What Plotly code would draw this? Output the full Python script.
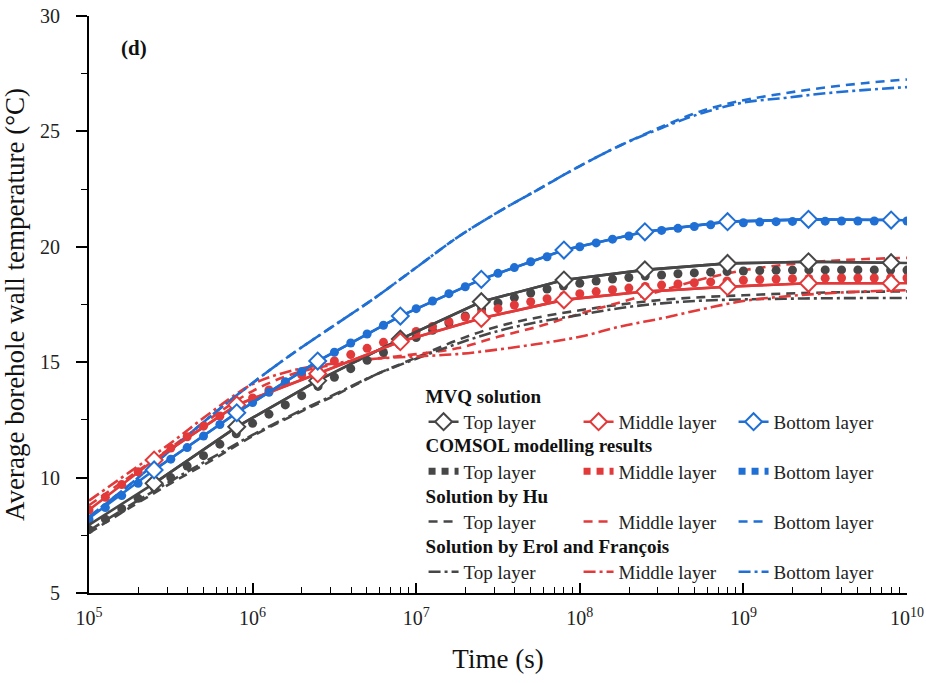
import numpy as np
import plotly.graph_objects as go

# ---------------- data ----------------
# MVQ solution (line through points, diamonds on inner points)
mvq_time = [1e5, 2.5e5, 8e5, 2.5e6, 8e6, 2.5e7, 8e7, 2.5e8, 8e8, 2.5e9, 8e9, 1e10]
mvq_top = [7.95, 9.75, 12.2, 14.2, 16.0, 17.62, 18.56, 19.0, 19.28, 19.35, 19.31, 19.3]
mvq_mid = [8.6, 10.76, 13.15, 14.5, 15.89, 16.9, 17.7, 18.06, 18.27, 18.42, 18.42, 18.42]
mvq_bot = [8.24, 10.33, 12.81, 15.05, 17.0, 18.59, 19.86, 20.65, 21.09, 21.19, 21.16, 21.15]

# COMSOL modelling results (log10 of time)
comsol_logt = [5.0, 5.1, 5.2, 5.3, 5.4, 5.5, 5.6, 5.7, 5.8, 5.9,
               6.0, 6.1, 6.2, 6.3, 6.4, 6.5, 6.6, 6.7, 6.8, 6.9,
               7.0, 7.1, 7.2, 7.3, 7.4, 7.5, 7.6, 7.7, 7.8, 7.9,
               8.0, 8.1, 8.2, 8.3, 8.4, 8.5, 8.6, 8.7, 8.8, 8.9,
               9.0, 9.1, 9.2, 9.3, 9.4, 9.5, 9.6, 9.7, 9.8, 9.9, 10.0]
comsol_top = [7.75, 8.2, 8.65, 9.1, 9.55, 10.0, 10.5, 10.95, 11.45, 11.9,
              12.35, 12.75, 13.15, 13.55, 13.95, 14.35, 14.72, 15.08, 15.42, 15.75,
              16.07, 16.38, 16.7, 17.0, 17.3, 17.57, 17.8, 18.0, 18.17, 18.3,
              18.42, 18.52, 18.6, 18.67, 18.73, 18.78, 18.83, 18.87, 18.9, 18.93,
              18.95, 18.97, 18.98, 18.99, 19.0, 19.0, 19.0, 19.0, 19.0, 18.99, 18.99]
comsol_mid = [8.6, 9.15, 9.7, 10.25, 10.78, 11.28, 11.77, 12.23, 12.67, 13.07,
              13.45, 13.8, 14.12, 14.45, 14.75, 15.05, 15.33, 15.6, 15.86, 16.1,
              16.33, 16.55, 16.76, 16.96, 17.15, 17.32, 17.48, 17.62, 17.75, 17.87,
              17.97, 18.06, 18.14, 18.21, 18.28, 18.34, 18.39, 18.44, 18.48, 18.52,
              18.55, 18.58, 18.6, 18.62, 18.63, 18.64, 18.65, 18.65, 18.65, 18.65, 18.65]
comsol_bot = [8.2, 8.7, 9.22, 9.75, 10.3, 10.8, 11.3, 11.8, 12.3, 12.78,
              13.25, 13.7, 14.15, 14.6, 15.02, 15.43, 15.83, 16.22, 16.6, 16.97,
              17.32, 17.65, 17.97, 18.27, 18.58, 18.85, 19.1, 19.35, 19.57, 19.8,
              20.0, 20.17, 20.33, 20.47, 20.6, 20.71, 20.8, 20.88, 20.95, 21.0,
              21.04, 21.07, 21.09, 21.1, 21.11, 21.11, 21.12, 21.12, 21.12, 21.12, 21.12]

# Analytical solutions (log10 of time)
ana_logt = [5.0, 5.25, 5.5, 5.75, 6.0, 6.25, 6.5, 6.75, 7.0, 7.25, 7.5,
            7.75, 8.0, 8.25, 8.5, 8.75, 9.0, 9.25, 9.5, 9.75, 10.0]
hu_top = [7.6, 8.7, 9.75, 10.75, 11.8, 12.7, 13.55, 14.45, 15.2, 15.95, 16.55,
          16.95, 17.25, 17.5, 17.7, 17.82, 17.9, 17.97, 18.02, 18.05, 18.07]
hu_mid = [8.8, 10.05, 11.3, 12.6, 13.75, 14.5, 14.9, 15.15, 15.35, 15.6, 16.1,
          16.55, 17.1, 17.6, 18.1, 18.6, 18.98, 19.22, 19.38, 19.47, 19.52]
hu_bot = [8.3, 9.7, 11.2, 12.7, 14.1, 15.4, 16.6, 17.8, 19.1, 20.4, 21.5,
          22.5, 23.5, 24.4, 25.2, 25.9, 26.35, 26.65, 26.9, 27.1, 27.25]
erol_top = [7.7, 8.8, 9.85, 10.85, 11.85, 12.75, 13.6, 14.45, 15.15, 15.8, 16.35,
            16.75, 17.05, 17.35, 17.55, 17.67, 17.72, 17.75, 17.77, 17.78, 17.78]
erol_mid = [9.0, 10.25, 11.5, 12.85, 14.05, 14.65, 14.95, 15.15, 15.25, 15.35, 15.55,
            15.8, 16.1, 16.55, 16.9, 17.3, 17.65, 17.85, 17.98, 18.07, 18.12]
erol_bot = [8.3, 9.7, 11.2, 12.7, 14.1, 15.4, 16.6, 17.8, 19.1, 20.4, 21.5,
            22.5, 23.5, 24.4, 25.15, 25.8, 26.25, 26.45, 26.65, 26.8, 26.92]

layer_names = ["Top layer", "Middle layer", "Bottom layer"]
x_tickvals = [1e5, 1e6, 1e7, 1e8, 1e9, 1e10]
x_ticktext = ["10<sup>5</sup>", "10<sup>6</sup>", "10<sup>7</sup>",
              "10<sup>8</sup>", "10<sup>9</sup>", "10<sup>10</sup>"]
y_tickvals = [5, 10, 15, 20, 25, 30]

# ---------------- styles ----------------
GRAY = "#474747"
RED = "#e23a3a"
BLUE = "#1f6fd4"
colors = [GRAY, RED, BLUE]
FONT = "Liberation Serif, Times New Roman, serif"

comsol_t = 10 ** np.array(comsol_logt)
ana_t = 10 ** np.array(ana_logt)

fig = go.Figure()

# Hu (dashed)
for name, ys, c in zip(layer_names, [hu_top, hu_mid, hu_bot], colors):
    fig.add_trace(go.Scatter(x=ana_t, y=ys, mode="lines", name=name,
                             line=dict(color=c, width=2.6, dash="9px,6px", shape="spline"),
                             legend="legend3"))
# Erol & Francois (dash-dot)
for name, ys, c in zip(layer_names, [erol_top, erol_mid, erol_bot], colors):
    fig.add_trace(go.Scatter(x=ana_t, y=ys, mode="lines", name=name,
                             line=dict(color=c, width=2.6, dash="12px,4px,3px,4px", shape="spline"),
                             legend="legend4"))
# COMSOL (dots)
for name, ys, c in zip(layer_names, [comsol_top, comsol_mid, comsol_bot], colors):
    fig.add_trace(go.Scatter(x=comsol_t, y=ys, mode="markers", showlegend=False,
                             marker=dict(color=c, size=9, symbol="circle"),
                             legend="legend2"))
    fig.add_trace(go.Scatter(x=[None], y=[None], mode="lines", name=name,
                             line=dict(color=c, width=7, dash="7px,6px"),
                             legend="legend2"))
# MVQ (line + diamonds)
for name, ys, c in zip(layer_names, [mvq_top, mvq_mid, mvq_bot], colors):
    fig.add_trace(go.Scatter(x=mvq_time, y=ys, mode="lines", showlegend=False,
                             line=dict(color=c, width=2.6), legend="legend"))
    fig.add_trace(go.Scatter(x=mvq_time[1:-1], y=ys[1:-1], mode="lines+markers", name=name,
                             line=dict(color=c, width=2.6),
                             marker=dict(symbol="diamond", size=13, color="white",
                                         line=dict(color=c, width=2)),
                             legend="legend"))

legend_font = dict(family=FONT, size=19, color="#222")
def leg(title, ytop):
    return dict(title=dict(text="<b>" + title + "</b>", side="top",
                           font=dict(family=FONT, size=19, color="#111")),
                orientation="h", traceorder="normal",
                x=0.409, xanchor="left", y=ytop, yanchor="top",
                bgcolor="rgba(0,0,0,0)", font=legend_font,
                entrywidth=110, entrywidthmode="pixels",
                itemwidth=30)

fig.update_layout(
    width=926, height=683,
    margin=dict(l=89, r=19, t=16, b=90, autoexpand=False),
    paper_bgcolor="white", plot_bgcolor="white",
    font=dict(family=FONT, color="#222"),
    legend=leg("MVQ solution", 0.3724),
    legend2=leg("COMSOL modelling results", 0.2864),
    legend3=leg("Solution by Hu", 0.1994),
    legend4=leg("Solution by Erol and François", 0.1124),
    annotations=[
        dict(text="<b>(d)</b>", x=0.055, y=0.945, xref="paper", yref="paper",
             xanchor="center", yanchor="middle",
             showarrow=False, font=dict(family=FONT, size=21, color="#111")),
    ],
)

fig.update_xaxes(
    type="log", range=[5, 10.0001], tickvals=x_tickvals, ticktext=x_ticktext,
    automargin=False, ticklabeloverflow="allow",
    showline=True, linecolor="black", linewidth=2, mirror=False, showgrid=False, zeroline=False,
    ticks="inside", ticklen=10, tickwidth=1.6, tickcolor="black",
    minor=dict(ticks="inside", ticklen=6, tickwidth=1.4, tickcolor="black", dtick="D1", showgrid=False),
    tickfont=dict(family=FONT, size=20, color="#222"), ticklabelstandoff=6,
    title=dict(text="Time (s)", font=dict(family=FONT, size=27, color="#111"), standoff=21),
)
fig.update_yaxes(
    range=[5, 30], tickvals=y_tickvals, automargin=False, ticklabeloverflow="allow",
    showline=True, linecolor="black", linewidth=2, mirror=False, showgrid=False, zeroline=False,
    ticks="outside", ticklen=11, tickwidth=1.6, tickcolor="black",
    minor=dict(ticks="outside", ticklen=6, tickwidth=1.4, tickcolor="black", dtick=2.5, showgrid=False),
    tickfont=dict(family=FONT, size=20, color="#222"), ticklabelstandoff=12,
    title=dict(text="Average borehole wall temperature (°C)",
               font=dict(family=FONT, size=27, color="#111"), standoff=8),
)

# remove the page's default 8px body margin so the 926x683 figure fills the window exactly
fig.write_html("out.html", config={"displayModeBar": False},
               post_script="document.body.style.margin='0px';")
